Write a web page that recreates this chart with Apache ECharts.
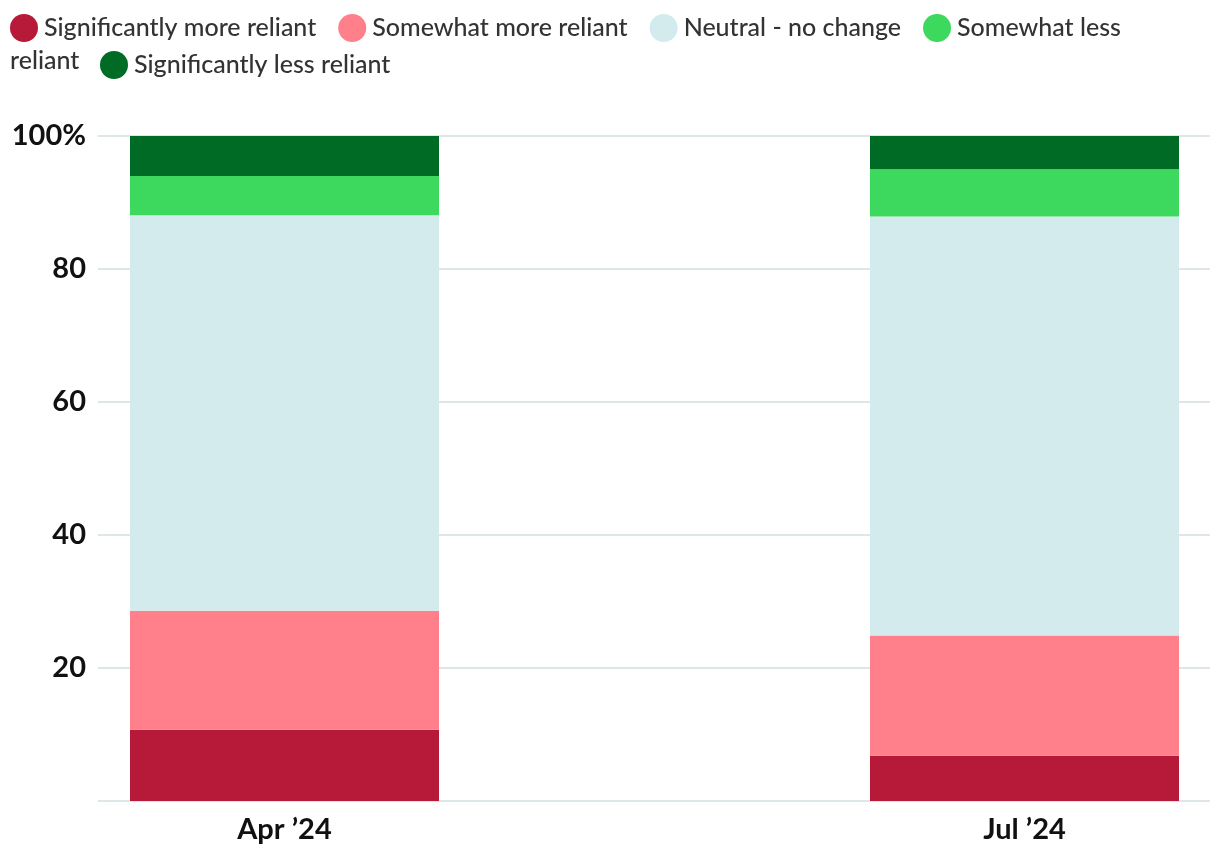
<!DOCTYPE html>
<html>
<head>
<meta charset="utf-8">
<script src="https://cdn.jsdelivr.net/npm/echarts@6/dist/echarts.min.js"></script>
<style>
  html, body { margin: 0; padding: 0; background: #fff; }
  #main { width: 1220px; height: 868px; }
</style>
</head>
<body>
<div id="main"></div>
<script>
// periods on the x axis
const categories = ["Apr \u201924", "Jul \u201924"];
// series names (legend order, stacked bottom -> top)
const seriesNames = [
  "Significantly more reliant",
  "Somewhat more reliant",
  "Neutral - no change",
  "Somewhat less reliant",
  "Significantly less reliant",
];
// values (%) per period
const sigMore = [10.7, 6.8];
const someMore = [17.9, 18.1];
const neutral = [59.5, 63.0];
const someLess = [5.9, 7.1];
const sigLess = [6.0, 5.0];
const yTicks = [0, 20, 40, 60, 80, 100];

const seriesValues = [sigMore, someMore, neutral, someLess, sigLess];
const colors = ["#b71a38", "#ff7f8a", "#d4ebee", "#3dd95e", "#006b24"];

const chart = echarts.init(document.getElementById("main"));

const fontFamily = "Lato, 'Noto Sans', sans-serif";
const legendText = { fontFamily: fontFamily, fontSize: 25, fontWeight: 500, color: "#333333", padding: [0, 0, 0, 1] };

const option = {
  backgroundColor: "#ffffff",
  animation: false,
  color: colors,
  legend: [
    {
      // first line
      data: seriesNames.slice(0, 4),
      left: 10,
      top: 14,
      padding: 0,
      icon: "circle",
      itemWidth: 28,
      itemHeight: 28,
      itemGap: 22,
      selectedMode: false,
      formatter: function (name) {
        return name === "Somewhat less reliant" ? "Somewhat less" : name;
      },
      textStyle: legendText,
    },
    {
      // second line
      data: seriesNames.slice(4),
      left: 100,
      top: 51,
      padding: 0,
      icon: "circle",
      itemWidth: 28,
      itemHeight: 28,
      selectedMode: false,
      textStyle: legendText,
    },
  ],
  graphic: [
    {
      // wrapped tail of "Somewhat less reliant"
      type: "text",
      left: 10,
      top: 48,
      style: { text: "reliant", font: "500 25px " + fontFamily, fill: "#333333" },
    },
  ],
  grid: [
    // gridlines + y labels
    { left: 98, right: 10, top: 136, bottom: 67 },
    // bars
    { left: 284.5, right: 195.5, top: 136, bottom: 67 },
  ],
  xAxis: [
    { type: "value", gridIndex: 0, show: false },
    {
      type: "category",
      gridIndex: 1,
      data: categories,
      boundaryGap: false,
      axisLine: { show: false },
      axisTick: { show: false },
      splitLine: { show: false },
      axisLabel: {
        margin: 14,
        fontFamily: fontFamily,
        fontSize: 29,
        fontWeight: "bold",
        color: "#111111",
      },
    },
  ],
  yAxis: [
    {
      type: "value",
      gridIndex: 0,
      min: yTicks[0],
      max: yTicks[yTicks.length - 1],
      interval: 20,
      axisLine: { show: false },
      axisTick: { show: false },
      splitLine: { lineStyle: { color: "#d3dee2", width: 1.5 } },
      axisLabel: {
        showMinLabel: false,
        margin: 12,
        fontFamily: fontFamily,
        fontSize: 29,
        fontWeight: "bold",
        color: "#111111",
        formatter: function (v) {
          return v === 100 ? "100%" : String(v);
        },
      },
    },
    {
      type: "value",
      gridIndex: 1,
      min: yTicks[0],
      max: yTicks[yTicks.length - 1],
      show: false,
    },
  ],
  series: seriesNames.map(function (name, i) {
    return {
      name: name,
      type: "bar",
      xAxisIndex: 1,
      yAxisIndex: 1,
      stack: "total",
      barWidth: 309,
      itemStyle: { color: colors[i] },
      data: seriesValues[i],
    };
  }),
};

chart.setOption(option);
window.addEventListener("resize", function () {
  chart.resize();
});
</script>
</body>
</html>
